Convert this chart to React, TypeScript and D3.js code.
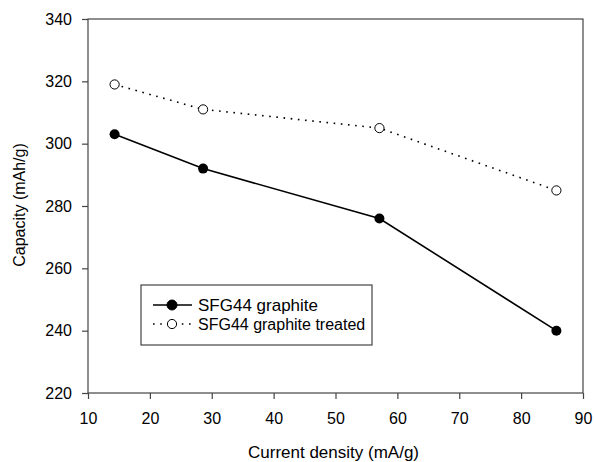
import React, { useEffect, useRef } from "react";
import * as d3 from "d3";

// current density (mA/g)
const currentDensity = [14.3, 28.6, 57.1, 85.7];
const capacityPlain = [303, 292, 276, 240];
const capacityTreated = [319, 311, 305, 285];
const xTicks = [10, 20, 30, 40, 50, 60, 70, 80, 90];
const yTicks = [220, 240, 260, 280, 300, 320, 340];
const seriesNames = ["SFG44 graphite", "SFG44 graphite treated"];

const W = 594;
const H = 462;
const margin = { left: 88, right: 11, top: 19, bottom: 69 };
const FONT = "'Liberation Sans', Arial, sans-serif";

export default function App() {
  const ref = useRef<SVGSVGElement>(null);

  useEffect(() => {
    const svg = d3.select(ref.current);
    svg.selectAll("*").remove();

    const iw = W - margin.left - margin.right;
    const ih = H - margin.top - margin.bottom;

    const x = d3.scaleLinear().domain([10, 90]).range([0, iw]);
    const y = d3.scaleLinear().domain([220, 340]).range([ih, 0]);

    const g = svg.append("g").attr("transform", `translate(${margin.left},${margin.top})`);

    // frame
    g.append("rect")
      .attr("width", iw).attr("height", ih)
      .attr("fill", "none").attr("stroke", "#444").attr("stroke-width", 1.2);

    const xAxis = g.append("g").attr("transform", `translate(0,${ih})`)
      .call(d3.axisBottom(x).tickValues(xTicks).tickSize(6).tickPadding(14));
    const yAxis = g.append("g")
      .call(d3.axisLeft(y).tickValues(yTicks).tickSize(6).tickPadding(10));

    [xAxis, yAxis].forEach(a => {
      a.select(".domain").remove();
      a.selectAll("line").attr("stroke", "#444").attr("stroke-width", 1.2);
      a.selectAll("text").attr("font-family", FONT).attr("font-size", 16).attr("fill", "#000");
    });

    const pts = (vals: number[]) => currentDensity.map((d, i) => [d, vals[i]] as [number, number]);
    const lineGen = d3.line<[number, number]>().x(d => x(d[0])).y(d => y(d[1]));

    // treated series: dotted, open circles
    g.append("path")
      .attr("d", lineGen(pts(capacityTreated)))
      .attr("fill", "none").attr("stroke", "#000").attr("stroke-width", 1.6)
      .attr("stroke-dasharray", "1.6 5.6");
    g.selectAll(".open").data(pts(capacityTreated)).join("circle")
      .attr("cx", d => x(d[0])).attr("cy", d => y(d[1])).attr("r", 4.6)
      .attr("fill", "#fff").attr("stroke", "#000").attr("stroke-width", 1);

    // plain series: solid, filled circles
    g.append("path")
      .attr("d", lineGen(pts(capacityPlain)))
      .attr("fill", "none").attr("stroke", "#000").attr("stroke-width", 1.6);
    g.selectAll(".filled").data(pts(capacityPlain)).join("circle")
      .attr("cx", d => x(d[0])).attr("cy", d => y(d[1])).attr("r", 5)
      .attr("fill", "#000");

    // axis titles
    svg.append("text")
      .attr("x", margin.left + iw / 2 - 2).attr("y", 458)
      .attr("text-anchor", "middle").attr("font-family", FONT).attr("font-size", 17)
      .text("Current density (mA/g)");
    svg.append("text")
      .attr("transform", `translate(25,${205}) rotate(-90)`)
      .attr("text-anchor", "middle").attr("font-family", FONT).attr("font-size", 16)
      .text("Capacity (mAh/g)");

    // legend
    const lg = svg.append("g");
    lg.append("rect")
      .attr("x", 141).attr("y", 285).attr("width", 231).attr("height", 60)
      .attr("fill", "#fff").attr("stroke", "#444").attr("stroke-width", 1.2);
    const rows = [305, 324];
    seriesNames.forEach((name, i) => {
      const ly = rows[i];
      lg.append("line")
        .attr("x1", 153).attr("x2", 192).attr("y1", ly).attr("y2", ly)
        .attr("stroke", "#000").attr("stroke-width", 1.6)
        .attr("stroke-dasharray", i === 0 ? null : "1.6 5.6");
      lg.append("circle")
        .attr("cx", 172).attr("cy", ly).attr("r", i === 0 ? 5 : 4.6)
        .attr("fill", i === 0 ? "#000" : "#fff").attr("stroke", "#000").attr("stroke-width", 1);
      lg.append("text")
        .attr("x", 198).attr("y", ly + 6)
        .attr("font-family", FONT).attr("font-size", i === 0 ? 17 : 16)
        .text(name);
    });
  }, []);

  return (
    <svg ref={ref} width={W} height={H} style={{ position: "absolute", left: 0, top: 0, background: "#fff" }} />
  );
}
